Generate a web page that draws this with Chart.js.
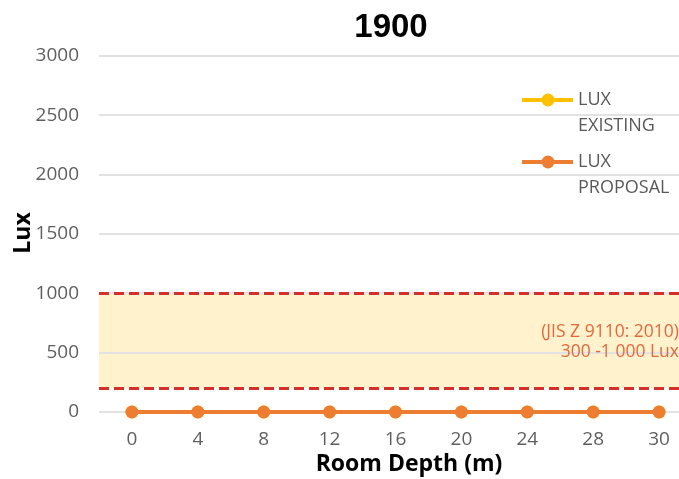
<!DOCTYPE html>
<html><head><meta charset="utf-8">
<script src="https://cdn.jsdelivr.net/npm/chart.js@4/dist/chart.umd.min.js"></script>
<style>
html,body{margin:0;padding:0;overflow:hidden;background:#fff;width:679px;height:479px}
#wrap{position:absolute;left:0;top:0;width:700px;height:479px}
</style>
</head><body>
<div id="wrap"><canvas id="c" width="700" height="479"></canvas></div>
<script>
// ---- data ----
const chartTitle = '1900';
const categories = ['0', '4', '8', '12', '16', '20', '24', '28', '30'];
const luxExisting = [0, 0, 0, 0, 0, 0, 0, 0, 0];
const luxProposal = [0, 0, 0, 0, 0, 0, 0, 0, 0];
const seriesLabels = ['LUX EXISTING', 'LUX PROPOSAL'];
const yMin = 0, yMax = 3000, yStep = 500;
const bandLow = 200, bandHigh = 1000;
const bandLabel = ['(JIS Z 9110: 2010)', '300 -1 000 Lux'];
const xTitle = 'Room Depth (m)';
const yTitle = 'Lux';

// ---- styles ----
const COL_EXIST = '#FFC000';
const COL_PROP = '#ED7D31';
const TICK_COL = '#5f5f5f';
const FONT = '"Open Sans", "Liberation Sans", Arial, sans-serif';

const decorPlugin = {
  id: 'decor',
  beforeDraw(chart) {
    const {ctx, chartArea: a, scales: {y}} = chart;
    const yTop = y.getPixelForValue(bandHigh), yBot = y.getPixelForValue(bandLow);
    ctx.save();
    ctx.fillStyle = '#FFF2CC';
    ctx.fillRect(a.left, yTop, a.right - a.left, yBot - yTop);
    ctx.restore();
  },
  beforeDatasetsDraw(chart) {
    const {ctx, chartArea: a, scales: {y}} = chart;
    ctx.save();
    ctx.strokeStyle = '#D42F2A';
    ctx.lineWidth = 3;
    ctx.setLineDash([10, 5]);
    [bandHigh, bandLow].forEach(v => {
      const py = Math.round(y.getPixelForValue(v)) + 0.5;
      ctx.beginPath(); ctx.moveTo(a.left, py); ctx.lineTo(a.right, py); ctx.stroke();
    });
    ctx.setLineDash([]);
    ctx.fillStyle = '#E2693F';
    ctx.font = '17.5px ' + FONT;
    ctx.textAlign = 'right';
    ctx.textBaseline = 'middle';
    ctx.fillText(bandLabel[0], 679, 332);
    ctx.fillText(bandLabel[1], 679, 352);
    ctx.restore();
  },
  afterDraw(chart) {
    const {ctx} = chart;
    ctx.save();
    // chart title
    ctx.fillStyle = '#000';
    ctx.textAlign = 'center';
    ctx.textBaseline = 'middle';
    ctx.font = 'bold 33px "Liberation Sans", Arial, sans-serif';
    ctx.fillText(chartTitle, 391, 28);
    // axis titles
    ctx.font = 'bold 23px ' + FONT;
    ctx.fillText(xTitle, 409, 464);
    ctx.save();
    ctx.translate(23, 233);
    ctx.rotate(-Math.PI / 2);
    ctx.fillText(yTitle, 0, 0);
    ctx.restore();
    // legend
    const items = [
      {label: seriesLabels[0], color: COL_EXIST, y: 100},
      {label: seriesLabels[1], color: COL_PROP, y: 162}
    ];
    ctx.font = '18px ' + FONT;
    ctx.textAlign = 'left';
    items.forEach(it => {
      ctx.strokeStyle = it.color;
      ctx.lineWidth = 4;
      ctx.beginPath(); ctx.moveTo(522, it.y); ctx.lineTo(573, it.y); ctx.stroke();
      ctx.fillStyle = it.color;
      ctx.beginPath(); ctx.arc(548, it.y, 6.5, 0, Math.PI * 2); ctx.fill();
      ctx.fillStyle = '#595959';
      const parts = it.label.split(' ');
      ctx.fillText(parts[0], 578, it.y);
      ctx.fillText(parts.slice(1).join(' '), 578, it.y + 26);
    });
    ctx.restore();
  }
};

new Chart(document.getElementById('c'), {
  type: 'line',
  data: {
    labels: categories,
    datasets: [
      {label: seriesLabels[0], data: luxExisting, borderColor: COL_EXIST, backgroundColor: COL_EXIST,
       borderWidth: 4, pointRadius: 6.5, pointHoverRadius: 6.5, pointBorderWidth: 0, order: 2, clip: false},
      {label: seriesLabels[1], data: luxProposal, borderColor: COL_PROP, backgroundColor: COL_PROP,
       borderWidth: 4, pointRadius: 6.5, pointHoverRadius: 6.5, pointBorderWidth: 0, order: 1, clip: false}
    ]
  },
  options: {
    responsive: false,
    animation: false,
    layout: {padding: {top: 56, right: 8, left: 0, bottom: 0}},
    plugins: {legend: {display: false}, title: {display: false}, tooltip: {enabled: false}},
    scales: {
      x: {
        type: 'category',
        offset: true,
        grid: {display: false, drawTicks: false},
        border: {display: false},
        ticks: {color: TICK_COL, font: {family: FONT, size: 19}, padding: 16, maxRotation: 0},
        afterFit(s) { s.height = 67; }
      },
      y: {
        min: yMin, max: yMax,
        grid: {color: '#e2e2e2', lineWidth: 2, drawTicks: false},
        border: {display: false},
        ticks: {stepSize: yStep, color: TICK_COL, font: {family: FONT, size: 19}, padding: 20,
                callback: v => String(v)},
        afterFit(s) { s.width = 99; }
      }
    }
  },
  plugins: [decorPlugin]
});
</script>
</body></html>
